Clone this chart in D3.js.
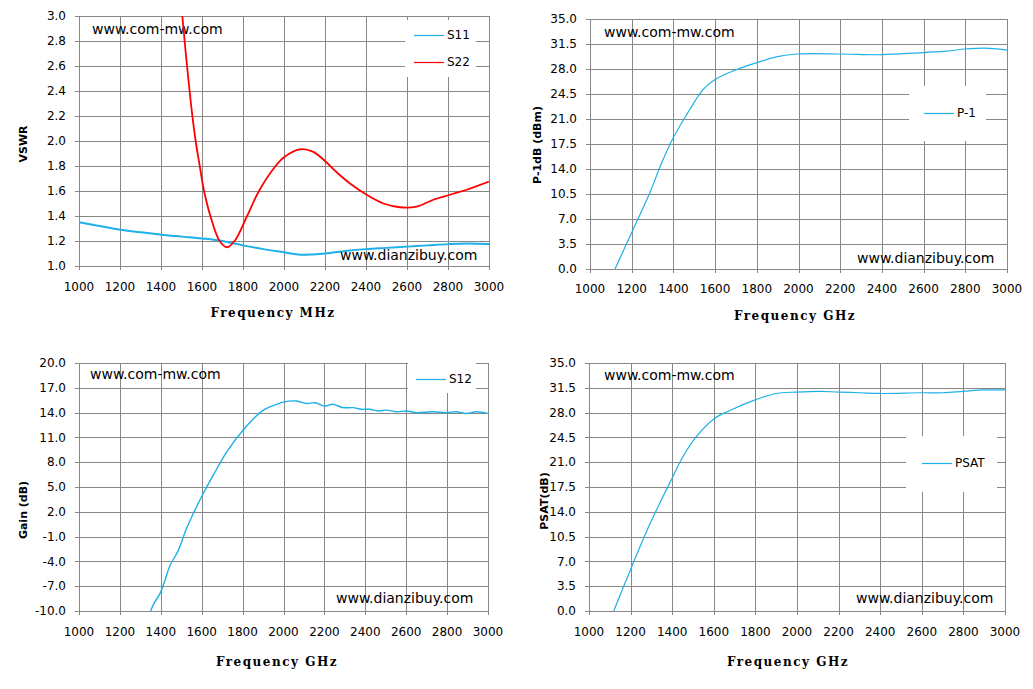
<!DOCTYPE html>
<html>
<head>
<meta charset="utf-8">
<script src="https://cdn.jsdelivr.net/npm/d3@7"></script>
<style>
  body { margin: 0; background: #fff; }
  svg text { font-family: 'DejaVu Sans', sans-serif; fill: #000; }
  .xtitle { font-family: 'DejaVu Serif', serif !important; font-weight: bold; font-size: 12px; letter-spacing: 1.5px; }
  .ytitle { font-weight: bold; font-size: 11px; }
</style>
</head>
<body>
<div id="chart"></div>
<script>
// data
const freqTicks = [1000, 1200, 1400, 1600, 1800, 2000, 2200, 2400, 2600, 2800, 3000];
const vswrTicks = [1.0, 1.2, 1.4, 1.6, 1.8, 2.0, 2.2, 2.4, 2.6, 2.8, 3.0];
const powerTicks = [0, 3.5, 7, 10.5, 14, 17.5, 21, 24.5, 28, 31.5, 35];
const gainTicks = [-10, -7, -4, -1, 2, 5, 8, 11, 14, 17, 20];

const s11Freq = [1000, 1100, 1200, 1300, 1400, 1500, 1600, 1700, 1800, 1900, 2000, 2080, 2200, 2300, 2400, 2500, 2600, 2700, 2800, 2900, 3000];
const s11Vswr = [1.35, 1.32, 1.29, 1.27, 1.25, 1.235, 1.22, 1.20, 1.165, 1.135, 1.11, 1.09, 1.10, 1.12, 1.135, 1.145, 1.155, 1.165, 1.175, 1.18, 1.175];

const s22Freq = [1495, 1504, 1527, 1553, 1569, 1589, 1610, 1641, 1686, 1722, 1759, 1820, 1878, 1959, 2000, 2076, 2140, 2200, 2257, 2322, 2403, 2485, 2566, 2647, 2728, 2810, 2891, 3000];
const s22Vswr = [3.16, 3.0, 2.6, 2.2, 2.0, 1.8, 1.6, 1.4, 1.2, 1.15, 1.2, 1.4, 1.6, 1.8, 1.87, 1.933, 1.915, 1.84, 1.75, 1.66, 1.57, 1.50, 1.47, 1.475, 1.53, 1.57, 1.61, 1.675];

const p1Freq = [1120, 1203, 1286, 1340, 1398, 1478, 1542, 1598, 1702, 1802, 1894, 1998, 2198, 2398, 2598, 2710, 2798, 2854, 2918, 3000];
const p1Dbm = [0, 5.3, 10.6, 14.6, 18.3, 22.3, 25.1, 26.5, 27.9, 28.9, 29.7, 30.1, 30.1, 30.0, 30.3, 30.5, 30.8, 30.9, 30.9, 30.65];

const s12Freq = [1350, 1366, 1396, 1420, 1445, 1485, 1526, 1567, 1603, 1656, 1721, 1803, 1901, 1966, 2003, 2064, 2112, 2153, 2202, 2243, 2291, 2340, 2381, 2422, 2462, 2503, 2552, 2601, 2650, 2731, 2797, 2845, 2894, 2943, 3000];
const s12Gain = [-10, -9.1, -7.9, -6.3, -4.5, -2.7, 0, 2.2, 4.0, 6.4, 9.2, 11.9, 14.3, 15.0, 15.3, 15.4, 15.1, 15.2, 14.8, 15.0, 14.6, 14.6, 14.4, 14.4, 14.2, 14.3, 14.1, 14.2, 14.0, 14.1, 14.0, 14.1, 13.9, 14.1, 13.9];

const psatFreq = [1119, 1199, 1276, 1340, 1399, 1452, 1516, 1600, 1677, 1799, 1901, 1998, 2110, 2198, 2302, 2398, 2602, 2703, 2799, 2896, 3000];
const psatDbm = [0, 5.8, 11.2, 15.2, 18.7, 21.8, 24.6, 27.1, 28.3, 29.8, 30.7, 30.9, 31.0, 30.9, 30.8, 30.7, 30.8, 30.8, 31.0, 31.2, 31.2];

const blue = '#1eb0e8';
const red = '#ff0000';
const gridColor = '#878787';

// one decimal, plain hyphen for negatives like the original
const fmt1 = (d) => d3.format('.1f')(d).replace('\u2212', '-');

// panel layout
const panels = [
  {
    box: { left: 79, right: 489, top: 16, bottom: 266 },
    yDomain: [1, 3], yTicks: vswrTicks,
    yTitle: 'VSWR', yTitleX: 23, yTitleY: 144,
    xTitle: 'Frequency MHz', xTitleX: 273, xTitleY: 313, xLabelY: 287,
    series: [
      { name: 'S11', x: s11Freq, y: s11Vswr, color: blue, w: 2 },
      { name: 'S22', x: s22Freq, y: s22Vswr, color: red, w: 1.8 },
    ],
    legend: { x: 405, y: 20, w: 71, h: 57, lineX: 414, rows: [35, 62] },
    mark1: [92, 29], mark2: [340, 255],
  },
  {
    box: { left: 590, right: 1007, top: 19, bottom: 269 },
    yDomain: [0, 35], yTicks: powerTicks,
    yTitle: 'P-1dB (dBm)', yTitleX: 537, yTitleY: 145,
    xTitle: 'Frequency GHz', xTitleX: 795, xTitleY: 316, xLabelY: 289,
    series: [{ name: 'P-1', x: p1Freq, y: p1Dbm, color: blue, w: 1.2 }],
    legend: { x: 909, y: 86, w: 77, h: 55, lineX: 924, rows: [113] },
    mark1: [604, 32], mark2: [857, 258],
  },
  {
    box: { left: 79, right: 488, top: 363, bottom: 611 },
    yDomain: [-10, 20], yTicks: gainTicks,
    yTitle: 'Gain (dB)', yTitleX: 23, yTitleY: 510,
    xTitle: 'Frequency GHz', xTitleX: 277, xTitleY: 662, xLabelY: 632,
    series: [{ name: 'S12', x: s12Freq, y: s12Gain, color: blue, w: 1.4 }],
    legend: { x: 408, y: 363, w: 68, h: 30, lineX: 416, rows: [379] },
    mark1: [90, 374], mark2: [336, 598],
  },
  {
    box: { left: 589, right: 1005, top: 363, bottom: 611 },
    yDomain: [0, 35], yTicks: powerTicks,
    yTitle: 'PSAT(dB)', yTitleX: 544, yTitleY: 501,
    xTitle: 'Frequency GHz', xTitleX: 788, xTitleY: 662, xLabelY: 632,
    series: [{ name: 'PSAT', x: psatFreq, y: psatDbm, color: blue, w: 1.2 }],
    legend: { x: 906, y: 436, w: 91, h: 56, lineX: 922, rows: [463] },
    mark1: [604, 375], mark2: [856, 598],
  },
];

const svg = d3.select('#chart')
  .append('svg')
  .attr('width', 1033)
  .attr('height', 689);

const renderPanel = (p, i) => {
  const { box } = p;
  const x = d3.scaleLinear().domain([1000, 3000]).range([box.left, box.right]);
  const y = d3.scaleLinear().domain(p.yDomain).range([box.bottom, box.top]);
  const g = svg.append('g');

  // grid
  g.selectAll('.hgrid')
    .data(p.yTicks)
    .enter()
    .append('line')
    .attr('x1', box.left - 4)
    .attr('x2', box.right)
    .attr('y1', (d) => Math.round(y(d)) + 0.5)
    .attr('y2', (d) => Math.round(y(d)) + 0.5)
    .attr('stroke', gridColor);
  g.selectAll('.vgrid')
    .data(freqTicks)
    .enter()
    .append('line')
    .attr('x1', (d) => Math.round(x(d)) + 0.5)
    .attr('x2', (d) => Math.round(x(d)) + 0.5)
    .attr('y1', box.top)
    .attr('y2', box.bottom + 4)
    .attr('stroke', gridColor);

  // tick labels
  g.selectAll('.ylab')
    .data(p.yTicks)
    .enter()
    .append('text')
    .attr('x', box.left - 13)
    .attr('y', (d) => y(d))
    .attr('dy', '0.35em')
    .attr('text-anchor', 'end')
    .style('font-size', '12px')
    .text(fmt1);
  g.selectAll('.xlab')
    .data(freqTicks)
    .enter()
    .append('text')
    .attr('x', (d) => x(d))
    .attr('y', p.xLabelY)
    .attr('dy', '0.35em')
    .attr('text-anchor', 'middle')
    .style('font-size', '12px')
    .text((d) => d);

  // titles
  g.append('text')
    .attr('class', 'xtitle')
    .attr('x', p.xTitleX)
    .attr('y', p.xTitleY)
    .attr('dy', '0.35em')
    .attr('text-anchor', 'middle')
    .text(p.xTitle);
  g.append('text')
    .attr('class', 'ytitle')
    .attr('transform', `translate(${p.yTitleX},${p.yTitleY})rotate(-90)`)
    .attr('dy', '0.35em')
    .attr('text-anchor', 'middle')
    .text(p.yTitle);

  // watermarks
  g.append('text')
    .attr('x', p.mark1[0])
    .attr('y', p.mark1[1])
    .attr('dy', '0.35em')
    .style('font-size', '14px')
    .text('www.com-mw.com');

  // curves, clipped to the plot area
  const clipId = `clip${i}`;
  svg.append('clipPath')
    .attr('id', clipId)
    .append('rect')
    .attr('x', box.left)
    .attr('y', box.top)
    .attr('width', box.right - box.left)
    .attr('height', box.bottom - box.top);

  const line = d3.line()
    .x((d) => x(d[0]))
    .y((d) => y(d[1]))
    .curve(d3.curveCatmullRom.alpha(0.5));

  p.series.forEach((s) => {
    g.append('path')
      .datum(d3.zip(s.x, s.y))
      .attr('d', line)
      .attr('clip-path', `url(#${clipId})`)
      .attr('fill', 'none')
      .attr('stroke', s.color)
      .attr('stroke-width', s.w);
  });

  g.append('text')
    .attr('x', p.mark2[0])
    .attr('y', p.mark2[1])
    .attr('dy', '0.35em')
    .style('font-size', '14px')
    .text('www.dianzibuy.com');

  // legend
  const lg = p.legend;
  g.append('rect')
    .attr('x', lg.x)
    .attr('y', lg.y)
    .attr('width', lg.w)
    .attr('height', lg.h)
    .attr('fill', '#fff');
  p.series.forEach((s, k) => {
    g.append('line')
      .attr('x1', lg.lineX)
      .attr('x2', lg.lineX + 30)
      .attr('y1', lg.rows[k] + 0.5)
      .attr('y2', lg.rows[k] + 0.5)
      .attr('stroke', s.color)
      .attr('stroke-width', 1.2);
    g.append('text')
      .attr('x', lg.lineX + 33)
      .attr('y', lg.rows[k])
      .attr('dy', '0.35em')
      .style('font-size', '12px')
      .text(s.name);
  });
};

panels.forEach(renderPanel);
</script>
</body>
</html>
